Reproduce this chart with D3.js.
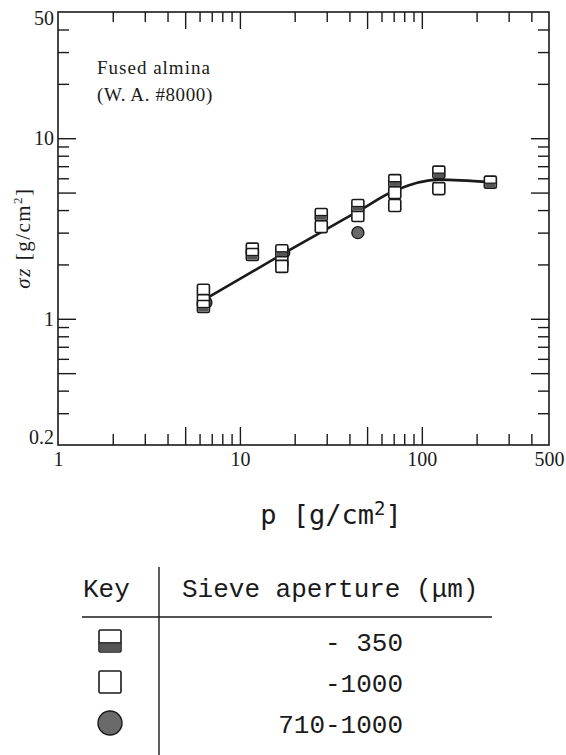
<!DOCTYPE html>
<html>
<head>
<meta charset="utf-8">
<script src="https://cdn.jsdelivr.net/npm/d3@7"></script>
<style>
body{margin:0;background:#fff}
</style>
</head>
<body>
<div id="chart1"></div>
<script>
// sieve aperture  -350 (half filled squares)
const halfX = [6.3, 11.7, 17, 28, 44.5, 71, 124, 238];
const halfY = [1.17, 2.27, 2.38, 3.78, 4.24, 5.82, 6.49, 5.71];
// sieve aperture -1000 (open squares)
const openX = [6.3, 6.3, 11.7, 17, 17, 28, 44.5, 71, 71, 124];
const openY = [1.44, 1.26, 2.43, 2.08, 1.95, 3.24, 3.73, 5.0, 4.24, 5.26];
// 710-1000 (filled circles)
const circX = [6.5, 17.4, 44.5, 71];
const circY = [1.23, 2.33, 3.0, 5.67];
// hand drawn trend line
const fitX = [6.3, 17, 28, 44.5, 71, 124, 238];
const fitY = [1.27, 2.27, 3.02, 3.93, 5.13, 5.9, 5.71];

const xLabels = [1, 10, 100, 500];
const yLabels = [0.2, 1, 10, 50];
const xMajor = [5, 10, 50, 100];
const xMinor = [2, 3, 4, 6, 7, 8, 9, 20, 30, 40, 60, 70, 80, 90, 200, 300, 400];
const yMajor = [0.5, 1, 5, 10];
const yMinor = [0.3, 0.4, 0.6, 0.7, 0.8, 0.9, 2, 3, 4, 6, 7, 8, 9, 20, 30, 40];

const keyRows = ['- 350', '-1000', '710-1000'];

const width = 566;
const height = 755;
const mLeft = 58, mRight = 549, mTop = 12, mBottom = 445;
const serif = '"Liberation Serif","Times New Roman",serif';
const mono = '"Liberation Mono","Courier New",monospace';

const x = d3.scaleLog().domain([1, 500]).range([mLeft, mRight]);
const y = d3.scaleLog().domain([0.2, 50]).range([mBottom, mTop]);

const svg = d3.select('#chart1')
  .append('svg')
  .attr('width', width)
  .attr('height', height)
  .style('background', '#fff');

const ink = '#1a1a1a';

// ticks, all pointing into the plot
const tickAxis = (gen, tr, vals, len) => {
  svg.append('g')
    .attr('transform', tr)
    .call(gen.tickValues(vals).tickSize(-len).tickFormat(''))
    .call(g => g.select('.domain').remove())
    .selectAll('line').attr('stroke', ink).attr('stroke-width', 1.4);
};
tickAxis(d3.axisBottom(x), `translate(0,${mBottom})`, xMajor, 18);
tickAxis(d3.axisBottom(x), `translate(0,${mBottom})`, xMinor, 11);
tickAxis(d3.axisTop(x), `translate(0,${mTop})`, xMajor, 17);
tickAxis(d3.axisTop(x), `translate(0,${mTop})`, xMinor, 10);
tickAxis(d3.axisLeft(y), `translate(${mLeft},0)`, yMajor, 18);
tickAxis(d3.axisLeft(y), `translate(${mLeft},0)`, yMinor, 11);
tickAxis(d3.axisRight(y), `translate(${mRight},0)`, yMajor, 18);
tickAxis(d3.axisRight(y), `translate(${mRight},0)`, yMinor, 11);

svg.append('rect')
  .attr('x', mLeft).attr('y', mTop)
  .attr('width', mRight - mLeft).attr('height', mBottom - mTop)
  .attr('fill', 'none').attr('stroke', ink).attr('stroke-width', 1.6);

// tick labels
const xl = svg.append('g')
  .attr('transform', `translate(0,${mBottom})`)
  .call(d3.axisBottom(x).tickValues(xLabels).tickSize(0).tickPadding(7).tickFormat(d3.format('')));
xl.select('.domain').remove();
xl.selectAll('text').attr('font-family', serif).attr('font-size', 20).attr('fill', ink);

const yl = svg.append('g')
  .attr('transform', `translate(${mLeft},0)`)
  .call(d3.axisLeft(y).tickValues(yLabels).tickSize(0).tickPadding(4).tickFormat(d3.format('')));
yl.select('.domain').remove();
yl.selectAll('text').attr('font-family', serif).attr('font-size', 20).attr('fill', ink)
  .attr('dy', d => d === 50 ? '0.6em' : d === 0.2 ? '-0.1em' : '0.32em');

// axis titles
svg.append('text')
  .attr('transform', 'translate(30,238) rotate(-90)')
  .attr('text-anchor', 'middle')
  .attr('font-family', serif).attr('font-size', 21).attr('letter-spacing', 1.5).attr('fill', ink)
  .call(t => {
    t.append('tspan').attr('font-style', 'italic').text('σz');
    t.append('tspan').text(' [g/cm');
    t.append('tspan').attr('font-size', 13).attr('dy', -8).text('2');
    t.append('tspan').attr('dy', 8).text(']');
  });

svg.append('text')
  .attr('x', 331).attr('y', 524)
  .attr('text-anchor', 'middle')
  .attr('font-family', '"DejaVu Sans Mono",monospace').attr('font-size', 27).attr('fill', ink)
  .call(t => {
    t.append('tspan').text('p [g/cm');
    t.append('tspan').attr('font-size', 19).attr('dy', -9).text('2');
    t.append('tspan').attr('dy', 9).text(']');
  });

// material note
svg.append('text')
  .attr('x', 97).attr('y', 74)
  .attr('font-family', serif).attr('font-size', 19).attr('letter-spacing', 1).attr('fill', ink)
  .text('Fused almina');
svg.append('text')
  .attr('x', 97).attr('y', 101)
  .attr('font-family', serif).attr('font-size', 19).attr('letter-spacing', 0.6).attr('fill', ink)
  .text('(W. A. #8000)');

// trend line
const line = d3.line()
  .x(d => x(d[0]))
  .y(d => y(d[1]))
  .curve(d3.curveMonotoneX);
svg.append('path')
  .datum(d3.zip(fitX, fitY))
  .attr('d', line)
  .attr('fill', 'none')
  .attr('stroke', ink)
  .attr('stroke-width', 2.6);

// markers
const sq = 12;
const grey = '#555';

const drawCircle = (g, cx, cy, r) => {
  g.append('circle')
    .attr('cx', cx).attr('cy', cy).attr('r', r)
    .attr('fill', '#6a6a6a').attr('stroke', ink).attr('stroke-width', 1.4);
};
const drawOpen = (g, cx, cy, s) => {
  g.append('rect')
    .attr('x', cx - s / 2).attr('y', cy - s / 2)
    .attr('width', s).attr('height', s).attr('rx', 1.5)
    .attr('fill', '#fff').attr('stroke', ink).attr('stroke-width', 1.6);
};
const drawHalf = (g, cx, cy, s) => {
  drawOpen(g, cx, cy, s);
  g.append('rect')
    .attr('x', cx - s / 2 + 0.8).attr('y', cy + s * 0.08)
    .attr('width', s - 1.6).attr('height', s * 0.42 - 0.8)
    .attr('fill', grey);
  g.append('line')
    .attr('x1', cx - s / 2).attr('x2', cx + s / 2)
    .attr('y1', cy + s * 0.08).attr('y2', cy + s * 0.08)
    .attr('stroke', ink).attr('stroke-width', 1.2);
};

const marks = svg.append('g');
d3.zip(circX, circY).forEach(d => drawCircle(marks, x(d[0]), y(d[1]), 6));
d3.zip(openX, openY).forEach(d => drawOpen(marks, x(d[0]), y(d[1]), sq));
d3.zip(halfX, halfY).forEach(d => drawHalf(marks, x(d[0]), y(d[1]), sq));

// key table
const key = svg.append('g')
  .attr('font-family', mono).attr('font-size', 26).attr('fill', ink);
key.append('text').attr('x', 83).attr('y', 597).text('Key');
key.append('text').attr('x', 182).attr('y', 597).text('Sieve aperture (μm)');
key.append('line')
  .attr('x1', 159).attr('x2', 159).attr('y1', 567).attr('y2', 755)
  .attr('stroke', ink).attr('stroke-width', 1.4);
key.append('line')
  .attr('x1', 82).attr('x2', 492).attr('y1', 617).attr('y2', 617)
  .attr('stroke', ink).attr('stroke-width', 1.6);

const rowY = [641, 682, 723];
keyRows.forEach((t, i) => {
  key.append('text')
    .attr('x', 403).attr('y', rowY[i] + 10)
    .attr('text-anchor', 'end')
    .style('white-space', 'pre')
    .text(t);
});
drawHalf(key, 110, rowY[0], 22);
drawOpen(key, 110, rowY[1], 22);
drawCircle(key, 110, rowY[2], 12);
</script>
</body>
</html>
